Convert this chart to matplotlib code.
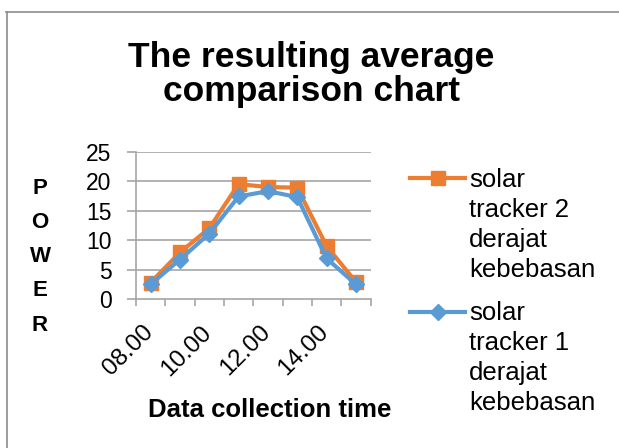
import matplotlib
matplotlib.use("Agg")
import matplotlib.pyplot as plt
from matplotlib.lines import Line2D
import matplotlib.transforms as mtransforms

plt.rcParams['font.family'] = ['Liberation Sans', 'DejaVu Sans']

categories = ["08.00", "09.00", "10.00", "11.00", "12.00", "13.00", "14.00", "15.00"]
tracker2 = [2.8, 7.9, 12.0, 19.5, 19.0, 18.9, 9.0, 2.9]
tracker1 = [2.5, 6.7, 11.1, 17.4, 18.3, 17.3, 6.9, 2.5]
series_names = ["solar\ntracker 2\nderajat\nkebebasan", "solar\ntracker 1\nderajat\nkebebasan"]
yticks = [0, 5, 10, 15, 20, 25]

W, H = 619, 448
fig = plt.figure(figsize=(W / 100, H / 100), dpi=100)

def fx(px):
    return px / W

def fy(py):
    return 1 - py / H

GRAY = '#A6A6A6'
# chart-area frame (only top and left visible in the crop)
fig.add_artist(Line2D([fx(6.5), fx(6.5)], [fy(12), fy(H + 2)], color='#8C8C8C', lw=1.2, transform=fig.transFigure))
fig.add_artist(Line2D([fx(6), fx(W + 2)], [fy(12.5), fy(12.5)], color='#8C8C8C', lw=1.2, transform=fig.transFigure))

ax = fig.add_axes([fx(136), fy(299), fx(370.5) - fx(136), fy(151.7) - fy(299)])
x = list(range(len(categories)))
ax.plot(x, tracker2, color='#ED7D31', linewidth=3, marker='s', markersize=9.5, zorder=3)
ax.plot(x, tracker1, color='#5B9BD5', linewidth=3, marker='D', markersize=8, zorder=4)

ax.set_xlim(-0.5, len(categories) - 0.5)
ax.set_ylim(0, 25)
ax.set_yticks(yticks)
ax.set_yticklabels([str(v) for v in yticks], fontsize=16.5)
for v in yticks[1:]:
    ax.axhline(v, color=GRAY, linewidth=1.2, zorder=1)
for s in ['top', 'right']:
    ax.spines[s].set_visible(False)
for s in ['bottom', 'left']:
    ax.spines[s].set_color(GRAY)
    ax.spines[s].set_linewidth(1.2)
ax.tick_params(axis='y', length=6.5, width=1.2, color=GRAY, pad=11)

ax.set_xticks([i - 0.5 for i in range(len(categories) + 1)])
ax.set_xticklabels([])
ax.tick_params(axis='x', which='major', length=5, width=1.2, color=GRAY, direction='out')
ax.set_xticks(x[::2], minor=True)
labels = ax.set_xticklabels(categories[::2], minor=True, rotation=45, ha='right', va='top',
                            rotation_mode='anchor', fontsize=17.5)
ax.tick_params(axis='x', which='minor', length=0, pad=6)
off = mtransforms.ScaledTranslation(-9 / 100, -14 / 100, fig.dpi_scale_trans)
for t in labels:
    t.set_transform(t.get_transform() + off)

title_lines = ["The resulting average", "comparison chart"]
fig.text(fx(311.5), fy(67), title_lines[0], ha='center', va='baseline', fontsize=25.5, fontweight='bold')
fig.text(fx(311.5), fy(101), title_lines[1], ha='center', va='baseline', fontsize=25.5, fontweight='bold')
fig.text(fx(270), fy(417), "Data collection time", ha='center', va='baseline',
         fontsize=18.5, fontweight='bold')
for i, ch in enumerate("POWER"):
    fig.text(fx(40), fy(188 + i * 34.3), ch, ha='center', va='center', fontsize=16, fontweight='bold')

# legend drawn manually: handle aligned with first text line
styles = [dict(color='#ED7D31', marker='s', markersize=9.5), dict(color='#5B9BD5', marker='D', markersize=8)]
handle_y = [178, 312]
first_baseline = [187, 320]
for name, st, hy, b0 in zip(series_names, styles, handle_y, first_baseline):
    fig.add_artist(Line2D([fx(410), fx(465)], [fy(hy), fy(hy)], lw=3, transform=fig.transFigure,
                          color=st['color']))
    fig.add_artist(Line2D([fx(437.5)], [fy(hy)], lw=0, transform=fig.transFigure, color=st['color'],
                          marker=st['marker'], markersize=st['markersize']))
    for k, line in enumerate(name.split("\n")):
        fig.text(fx(469), fy(b0 + k * 30), line, ha='left', va='baseline', fontsize=18.5)

fig.savefig("out.png", dpi=100)
